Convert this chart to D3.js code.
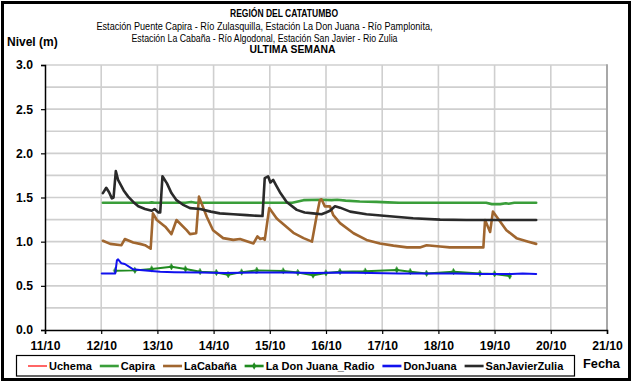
<!DOCTYPE html>
<html>
<head>
<meta charset="utf-8">
<script src="https://cdn.jsdelivr.net/npm/d3@7"></script>
<style>
  body { margin: 0; background: #fff; }
  svg { display: block; }
  text { font-family: "Liberation Sans", Arial, sans-serif; }
</style>
</head>
<body>
<svg id="chart" width="632" height="382"></svg>
<script>
// ---- Data ----------------------------------------------------------------
const titleLines = [
  "REGIÓN DEL CATATUMBO",
  "Estación Puente Capira - Río Zulasquilla, Estación La Don Juana - Río Pamplonita,",
  "Estación La Cabaña - Río Algodonal, Estación San Javier - Rio Zulia",
  "ULTIMA SEMANA"
];
const yAxisTitle = "Nivel (m)";
const xAxisTitle = "Fecha";

// day of October
const dayTicks = [11, 12, 13, 14, 15, 16, 17, 18, 19, 20, 21];
const dayLabels = ["11/10", "12/10", "13/10", "14/10", "15/10", "16/10", "17/10", "18/10", "19/10", "20/10", "21/10"];
const levelTicks = [0, 0.5, 1.0, 1.5, 2.0, 2.5, 3.0];
const levelGrid = [0.25, 0.5, 0.75, 1.0, 1.25, 1.5, 1.75, 2.0, 2.25, 2.5, 2.75, 3.0];

const seriesNames = ["Uchema", "Capira", "LaCabaña", "La Don Juana_Radio", "DonJuana", "SanJavierZulia"];

// [day, level in m]
const uchema = [];

const capira = [
  [12.03, 1.44], [12.5, 1.44], [12.85, 1.44], [12.9, 1.445], [12.95, 1.44], [13.3, 1.44],
  [13.5, 1.44], [13.6, 1.45], [13.68, 1.44], [14.2, 1.44], [14.6, 1.44], [15.0, 1.44],
  [15.4, 1.44], [15.5, 1.455], [15.6, 1.47], [15.9, 1.475], [16.1, 1.47], [16.2, 1.475],
  [16.35, 1.465], [16.6, 1.455], [16.9, 1.45], [17.1, 1.445], [17.3, 1.44], [17.6, 1.44],
  [18.0, 1.44], [18.4, 1.44], [18.85, 1.44], [18.95, 1.425], [19.1, 1.425], [19.2, 1.435],
  [19.25, 1.43], [19.35, 1.44], [19.74, 1.44]
];

const laCabana = [
  [12.03, 1.01], [12.16, 0.975], [12.36, 0.96], [12.42, 1.03], [12.57, 0.99], [12.69, 0.975],
  [12.78, 0.96], [12.88, 0.92], [12.92, 1.32], [12.99, 1.245], [13.14, 1.17], [13.25, 1.085],
  [13.34, 1.245], [13.52, 1.13], [13.58, 1.085], [13.69, 1.095], [13.74, 1.51], [13.88, 1.28],
  [13.99, 1.13], [14.17, 1.04], [14.35, 1.02], [14.47, 1.03], [14.71, 0.98], [14.78, 1.06],
  [14.83, 1.03], [14.88, 1.04], [14.91, 1.02], [14.99, 1.38], [15.12, 1.265], [15.18, 1.23],
  [15.42, 1.10], [15.6, 1.04], [15.75, 1.00], [15.83, 1.28], [15.89, 1.47], [15.92, 1.48],
  [15.98, 1.40], [16.07, 1.40], [16.13, 1.30], [16.25, 1.21], [16.49, 1.095], [16.72, 1.02],
  [16.96, 0.98], [17.2, 0.955], [17.44, 0.935], [17.67, 0.935], [17.79, 0.96], [18.03, 0.945],
  [18.2, 0.935], [18.5, 0.935], [18.80, 0.935], [18.83, 1.245], [18.92, 1.11], [18.97, 1.34],
  [19.04, 1.28], [19.21, 1.13], [19.39, 1.04], [19.60, 1.00], [19.74, 0.975]
];

const donJuanaRadio = [
  [12.25, 0.67], [12.6, 0.675], [12.9, 0.69], [13.25, 0.715], [13.5, 0.69], [13.76, 0.66],
  [14.05, 0.65], [14.26, 0.625], [14.5, 0.655], [14.77, 0.675], [15.24, 0.668], [15.5, 0.65],
  [15.77, 0.62], [16.0, 0.645], [16.25, 0.66], [16.7, 0.665], [17.26, 0.68], [17.5, 0.66],
  [17.79, 0.64], [18.27, 0.66], [18.74, 0.64], [19.0, 0.635], [19.27, 0.61]
];

const donJuana = [
  [12.01, 0.64], [12.25, 0.64], [12.28, 0.79], [12.30, 0.80], [12.36, 0.755], [12.42, 0.747],
  [12.57, 0.687], [12.69, 0.68], [13.05, 0.66], [13.3, 0.655], [13.76, 0.65], [14.2, 0.645],
  [14.8, 0.65], [15.3, 0.65], [15.8, 0.645], [16.3, 0.65], [16.8, 0.645], [17.3, 0.64],
  [17.8, 0.64], [18.3, 0.64], [18.8, 0.635], [19.3, 0.635], [19.5, 0.64], [19.74, 0.635]
];

const sanJavierZulia = [
  [12.03, 1.55], [12.09, 1.61], [12.14, 1.56], [12.19, 1.49], [12.22, 1.50], [12.26, 1.80],
  [12.30, 1.70], [12.40, 1.58], [12.48, 1.51], [12.57, 1.45], [12.66, 1.40], [12.78, 1.37],
  [12.90, 1.35], [12.95, 1.37], [13.02, 1.33], [13.05, 1.33], [13.09, 1.74], [13.17, 1.66],
  [13.25, 1.55], [13.34, 1.47], [13.45, 1.42], [13.58, 1.38], [13.76, 1.37], [13.95, 1.34],
  [14.11, 1.32], [14.35, 1.31], [14.59, 1.30], [14.87, 1.29], [14.91, 1.72], [14.97, 1.74],
  [15.01, 1.67], [15.06, 1.70], [15.12, 1.63], [15.18, 1.56], [15.30, 1.45], [15.48, 1.36],
  [15.62, 1.33], [15.77, 1.32], [15.92, 1.31], [16.0, 1.33], [16.07, 1.35], [16.16, 1.40],
  [16.25, 1.385], [16.43, 1.34], [16.72, 1.31], [17.08, 1.29], [17.55, 1.265], [18.03, 1.25],
  [18.5, 1.245], [19.0, 1.245], [19.74, 1.245]
];

// ---- Layout & styles ------------------------------------------------------
const styles = {
  "Uchema":             { color: "#ff0000", width: 1.2 },
  "Capira":             { color: "#3a9e3a", width: 2.6 },
  "LaCabaña":           { color: "#a0662f", width: 2.6 },
  "La Don Juana_Radio": { color: "#1f8a1f", width: 2.0, marker: true },
  "DonJuana":           { color: "#1111ee", width: 2.0 },
  "SanJavierZulia":     { color: "#2a2a2a", width: 2.6 }
};
const seriesData = {
  "Uchema": uchema,
  "Capira": capira,
  "LaCabaña": laCabana,
  "La Don Juana_Radio": donJuanaRadio,
  "DonJuana": donJuana,
  "SanJavierZulia": sanJavierZulia
};

const plot = { left: 45, right: 607, top: 65, bottom: 330 };

const svg = d3.select("#chart");

svg.append("rect")
  .attr("x", 0).attr("y", 0).attr("width", 632).attr("height", 382)
  .attr("fill", "#fff");

// outer frame
svg.append("rect")
  .attr("x", 2.5).attr("y", 2.5).attr("width", 627).attr("height", 377)
  .attr("fill", "none").attr("stroke", "#000").attr("stroke-width", 3);

const x = d3.scaleLinear().domain([11, 21]).range([plot.left, plot.right]);
const y = d3.scaleLinear().domain([0, 3]).range([plot.bottom, plot.top]);

// ---- Titles ---------------------------------------------------------------
const titleSpec = [
  { cx: 284,   base: 17,   bold: true,  size: 10.2, len: 108 },
  { cx: 264.5, base: 29.5, bold: false, size: 10.8, len: 336 },
  { cx: 264.5, base: 41.5, bold: false, size: 10.8, len: 266 },
  { cx: 292.5, base: 53,   bold: true,  size: 10.2, len: 86 }
];
titleLines.forEach((t, i) => {
  const s = titleSpec[i];
  svg.append("text")
    .attr("x", s.cx - s.len / 2).attr("y", s.base)
    .attr("font-size", s.size)
    .attr("font-weight", s.bold ? "bold" : "normal")
    .attr("textLength", s.len).attr("lengthAdjust", "spacingAndGlyphs")
    .attr("fill", "#000")
    .text(t);
});

svg.append("text")
  .attr("x", 7).attr("y", 45.5)
  .attr("font-size", 12).attr("font-weight", "bold")
  .text(yAxisTitle);

// ---- Grid -----------------------------------------------------------------
const grid = svg.append("g").attr("stroke", "#cfcfcf").attr("stroke-width", 1.6);
grid.selectAll("line.h").data(levelGrid).join("line")
  .attr("x1", plot.left).attr("x2", plot.right)
  .attr("y1", d => y(d)).attr("y2", d => y(d));
grid.selectAll("line.v").data(dayTicks.slice(1, -1)).join("line")
  .attr("y1", plot.top).attr("y2", plot.bottom)
  .attr("x1", d => x(d)).attr("x2", d => x(d));
// right edge of plot area
svg.append("line")
  .attr("x1", x(21)).attr("x2", x(21)).attr("y1", plot.top - 0.8).attr("y2", plot.bottom)
  .attr("stroke", "#a8a8a8").attr("stroke-width", 2);

// ---- Axes -----------------------------------------------------------------
const yAxis = d3.axisLeft(y).tickValues(levelTicks).tickSize(4).tickPadding(8)
  .tickFormat(d3.format(".1f"));
const xAxis = d3.axisBottom(x).tickValues(dayTicks).tickSize(4).tickPadding(7)
  .tickFormat((d, i) => dayLabels[i]);

const gy = svg.append("g").attr("transform", `translate(${plot.left},0)`).call(yAxis);
const gx = svg.append("g").attr("transform", `translate(0,${plot.bottom})`).call(xAxis);
[gx, gy].forEach(g => {
  g.select(".domain").attr("stroke", "#000").attr("stroke-width", 1.5);
  g.selectAll(".tick line").attr("stroke", "#000").attr("stroke-width", 1.2);
  g.selectAll(".tick text")
    .attr("font-family", "\"Liberation Sans\", Arial, sans-serif")
    .attr("font-size", 12.2).attr("font-weight", "bold").attr("fill", "#000");
});

// ---- Series ---------------------------------------------------------------
const line = d3.line().x(d => x(d[0])).y(d => y(d[1]));
const seriesG = svg.append("g").attr("fill", "none")
  .attr("stroke-linejoin", "round").attr("stroke-linecap", "round");
const diamond = d3.symbol().type(d3.symbolDiamond).size(11);

seriesNames.forEach(name => {
  const st = styles[name];
  const data = seriesData[name];
  if (!data.length) return;
  seriesG.append("path")
    .datum(data)
    .attr("d", line)
    .attr("stroke", st.color)
    .attr("stroke-width", st.width);
  if (st.marker) {
    seriesG.selectAll(null).data(data).join("path")
      .attr("d", diamond)
      .attr("transform", d => `translate(${x(d[0])},${y(d[1])})`)
      .attr("fill", st.color).attr("stroke", st.color).attr("stroke-width", 0.5);
  }
});

// ---- Legend ---------------------------------------------------------------
const legend = svg.append("g");
legend.append("rect")
  .attr("x", 16.5).attr("y", 355.5).attr("width", 558).attr("height", 20.5)
  .attr("fill", "#fff").attr("stroke", "#000").attr("stroke-width", 1.2);

let lx = 28;
seriesNames.forEach(name => {
  const st = styles[name];
  legend.append("line")
    .attr("x1", lx).attr("x2", lx + 19).attr("y1", 366).attr("y2", 366)
    .attr("stroke", st.color).attr("stroke-width", name === "Uchema" ? 1.2 : 2.6);
  if (st.marker) {
    legend.append("path").attr("d", d3.symbol().type(d3.symbolDiamond).size(16))
      .attr("transform", `translate(${lx + 9.5},366)`)
      .attr("fill", st.color);
  }
  const t = legend.append("text")
    .attr("x", lx + 21).attr("y", 370.3)
    .attr("font-size", 11).attr("font-weight", "bold").attr("fill", "#000")
    .text(name);
  lx += 21 + t.node().getComputedTextLength() + 8;
});

svg.append("text")
  .attr("x", 583).attr("y", 368)
  .attr("font-size", 12.8).attr("font-weight", "bold")
  .text(xAxisTitle);
</script>
</body>
</html>
